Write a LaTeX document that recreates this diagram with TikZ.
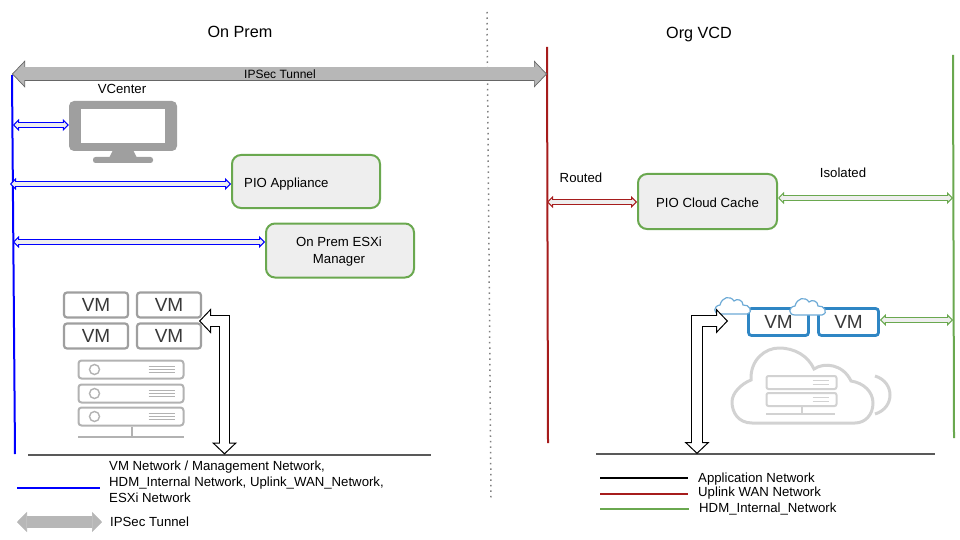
\documentclass[tikz,border=0pt]{standalone}
\usepackage{fontspec}
\setmainfont{Liberation Sans}
\usepackage{xcolor}
\usetikzlibrary{arrows.meta,positioning,calc}
\definecolor{boxgreen}{HTML}{6AA84F}
\definecolor{boxfill}{HTML}{EEEEEE}
\definecolor{vmblue}{HTML}{2F86C4}
\definecolor{lanred}{HTML}{A61C1C}
\definecolor{tunnelgray}{HTML}{B7B7B7}
\begin{document}
\begin{tikzpicture}[
    x=1pt, y=-1pt,
    every node/.style={font=\fontsize{13.2}{15}\selectfont, inner sep=0pt},
    label/.style={font=\fontsize{13.2}{16}\selectfont, align=left},
    title/.style={font=\fontsize{16.2}{19}\selectfont},
    appbox/.style={rectangle, draw=boxgreen, fill=boxfill, line width=2pt, rounded corners=9pt, minimum width=#1, align=center},
    vmgray/.style={rectangle, draw=gray!75, fill=white, line width=2.2pt, rounded corners=3pt, minimum width=64pt, minimum height=25pt, font=\fontsize{19}{21}\selectfont, text=black!78},
    vmcloud/.style={rectangle, draw=vmblue, fill=white, line width=2.8pt, rounded corners=3pt, minimum width=60pt, minimum height=27pt, font=\fontsize{19}{21}\selectfont, text=black!78},
    rack/.style={rectangle, draw=gray!60, fill=white, line width=2pt, rounded corners=3pt, minimum width=105pt, minimum height=18pt},
    cloudrack/.style={rectangle, draw=gray!35, fill=white, line width=2pt, rounded corners=2pt, minimum width=70pt, minimum height=13pt},
    openbase/.style n args={3}{postaction={draw=#1, line width=#2, -, shorten >=#3, shorten <=#3}},
    wire/.style={draw=#1, line width=1pt, double=boxfill, double distance=4.5pt,
        {Triangle[length=6pt, width=12pt, line width=1pt, fill=boxfill]}-{Triangle[length=6pt, width=12pt, line width=1pt, fill=boxfill]},
        openbase={boxfill}{4.5pt}{4.5pt}},
    uplink/.style={draw=black, line width=1pt, double=white, double distance=9.5pt, line join=miter,
        {Triangle[length=12pt, width=25pt, line width=1pt, fill=white]}-{Triangle[length=12pt, width=25pt, line width=1pt, fill=white]},
        openbase={white}{9.5pt}{10pt}},
    tunnel/.style={draw=gray!80!black, line width=0.7pt, double=tunnelgray, double distance=#1},
    net/.style={line width=2pt}
]
    \useasboundingbox (0,0) rectangle (960,540);

    % Titles and divider
    \node[title] (onprem) at (240,32) {On Prem};
    \node[title] (orgvcd) at (699,35) {Org VCD};
    \coordinate (divtop) at (487,12);
    \coordinate (divbot) at (491,498);
    \draw[gray, line width=1.5pt, dash pattern=on 1.5pt off 4pt] (divtop) -- (divbot);

    % Network lines
    \coordinate (bluetop) at (12,75);
    \coordinate (bluebot) at (15,454);
    \coordinate (redtop) at (547,47);
    \coordinate (redbot) at (548,443);
    \coordinate (greentop) at (953,55);
    \coordinate (greenbot) at (954,438);
    \draw[net, blue] (bluetop) -- (bluebot);
    \draw[net, lanred] (redtop) -- (redbot);
    \draw[net, boxgreen] (greentop) -- (greenbot);
    \coordinate (groundLa) at (28,455);
    \coordinate (groundLb) at (431,455);
    \coordinate (groundRa) at (596,454);
    \coordinate (groundRb) at (935,454);
    \draw[net, black!65] (groundLa) -- (groundLb);
    \draw[net, black!65] (groundRa) -- (groundRb);

    % IPSec tunnel
    \coordinate (tunnelL) at (12,74);
    \coordinate (tunnelR) at (547,74);
    \draw[tunnel=13pt, {Triangle[length=13pt, width=27pt, line width=0.7pt, fill=tunnelgray]}-{Triangle[length=13pt, width=27pt, line width=0.7pt, fill=tunnelgray]}, openbase={tunnelgray}{13pt}{11pt}] (tunnelL) -- (tunnelR);
    \node[font=\fontsize{12}{14}\selectfont] (tunneltext) at (280,74.5) {IPSec Tunnel};

    % VCenter monitor
    \node (vcenter) at (122,88.5) {VCenter};
    \node[rectangle, fill=gray!75, rounded corners=5pt, minimum width=108pt, minimum height=50pt] (monitor) at (123,126) {};
    \node[rectangle, fill=white, minimum width=84pt, minimum height=34pt] (screen) at (123,126) {};
    \fill[gray!75] (113,150) -- (133,150) -- (137,158) -- (109,158) -- cycle;
    \fill[gray!75, rounded corners=2.5pt] (93,157) rectangle (153,163);

    % Appliance boxes
    \node[appbox=148pt, minimum height=53pt] (appliance) at (306,181.5) {};
    \node[anchor=west] (appliancetext) at (244,184) {PIO Appliance};
    \node[appbox=148pt, minimum height=54pt] (esxi) at (340,250.5) {};
    \node[align=center, font=\fontsize{13.2}{17}\selectfont] (esxitext) at (339,252) {On Prem ESXi\\Manager};
    \node[appbox=139pt, minimum height=55pt] (cache) at (707.5,201.5) {};
    \node (cachetext) at (707.5,202.5) {PIO Cloud Cache};

    % Left side links
    \coordinate (busA) at (13,125);
    \coordinate (busB) at (10,184);
    \coordinate (busC) at (13,242);
    \draw[wire=blue] (busA) -- (monitor.west |- busA);
    \draw[wire=blue] (busB) -- (appliance.west |- busB);
    \draw[wire=blue] (busC) -- (esxi.west |- busC);

    % Gray VMs
    \foreach \name/\px/\py in {vmA/96/305, vmB/169/305, vmC/96/336, vmD/169/336} {
        \node[vmgray] (\name) at (\px,\py) {VM};
    }
    % Server stack
    \foreach \i/\py in {1/369.5, 2/393.5, 3/416.5} {
        \node[rack] (rack\i) at (131,\py) {};
        \draw[gray!60, line width=1.4pt] ($(rack\i.west)+(17,0)$) circle (5pt);
        \foreach \dy in {-3,0,3} {
            \draw[gray!60, line width=1pt] ($(rack\i.east)+(-36,\dy)$) -- ($(rack\i.east)+(-10,\dy)$);
        }
    }
    \coordinate (standL) at (78,437);
    \coordinate (standR) at (184,437);
    \draw[gray!60, line width=1.8pt] (rack3.south -| 132,0) -- (132,437);
    \draw[gray!60, line width=1.8pt] (standL) -- (standR);

    % Uplink to application network, left
    \coordinate (vmport) at (199,321);
    \coordinate (tapL) at (224.5,454.5);
    \draw[uplink] (vmport) -| (tapL);

    % Cloud VMs
    \draw[gray!35, line width=3pt] (752,423) .. controls (738,423) and (732,412) .. (732,402)
        .. controls (732,393) and (741,384) .. (751,380)
        .. controls (750,360) and (765,348) .. (779,348)
        .. controls (795,348) and (808,356) .. (814,369)
        .. controls (824,362) and (843,364) .. (851,381)
        .. controls (864,383) and (873,392) .. (873,403)
        .. controls (873,415) and (865,423) .. (855,423) -- cycle;
    \draw[gray!35, line width=3pt] (875,376) .. controls (895,382) and (895,408) .. (875,414);
    \foreach \i/\py in {1/382.5, 2/399.5} {
        \node[cloudrack] (crack\i) at (801.5,\py) {};
        \foreach \dy in {-2,2} {
            \draw[gray!35, line width=1pt] ($(crack\i.east)+(-25,\dy)$) -- ($(crack\i.east)+(-9,\dy)$);
        }
    }
    \coordinate (cstandL) at (766,414);
    \coordinate (cstandR) at (835,414);
    \draw[gray!35, line width=1.5pt] (802,406) -- (802,414);
    \draw[gray!35, line width=1.5pt] (cstandL) -- (cstandR);

    \node[vmcloud] (vmE) at (778.5,322) {VM};
    \node[vmcloud] (vmF) at (848.5,322) {VM};
    \foreach \cx/\cy in {733/307, 808/308} {
        \draw[vmblue!70, fill=white, line width=1.2pt] (\cx-13,\cy+7) .. controls (\cx-20,\cy+7) and (\cx-20,\cy-1) .. (\cx-13,\cy-2)
            .. controls (\cx-11,\cy-10) and (\cx-3,\cy-12) .. (\cx+1,\cy-6)
            .. controls (\cx+4,\cy-9) and (\cx+10,\cy-7) .. (\cx+10,\cy-2)
            .. controls (\cx+16,\cy-3) and (\cx+21,\cy+5) .. (\cx+14,\cy+7) -- cycle;
    }

    % Uplink to application network, right
    \coordinate (cloudport) at (728,321);
    \coordinate (tapR) at (697,454);
    \draw[uplink] (cloudport) -| (tapR);

    % Right side links
    \node (routed) at (581,177.5) {Routed};
    \node (isolated) at (843,172.5) {Isolated};
    \coordinate (redport) at (547,202);
    \coordinate (greenport) at (953,198);
    \coordinate (greenvm) at (953,320);
    \draw[wire=lanred] (redport) -- (cache.west |- redport);
    \draw[wire=boxgreen] (cache.east |- greenport) -- (greenport);
    \draw[wire=boxgreen] (vmF.east |- greenvm) -- (greenvm);

    % Legend left
    \node[label, anchor=north west] (legendnet) at (109,461) {VM Network / Management Network,\\HDM\_Internal Network, Uplink\_WAN\_Network,\\ESXi Network};
    \coordinate (legblueA) at (17,488);
    \coordinate (legblueB) at (100,488);
    \draw[net, blue] (legblueA) -- (legblueB);
    \coordinate (legtunA) at (17,522);
    \coordinate (legtunB) at (102,522);
    \draw[tunnel=10pt, draw=tunnelgray, {Triangle[length=10pt, width=20pt, line width=0.7pt, fill=tunnelgray]}-{Triangle[length=10pt, width=20pt, line width=0.7pt, fill=tunnelgray]}] (legtunA) -- (legtunB);
    \node[anchor=west] (legtuntext) at (110,522) {IPSec Tunnel};

    % Legend right
    \foreach \name/\col/\ya/\xb/\xt/\yt/\txt in {lapp/black/478/688/698/479/Application Network, lwan/lanred/494/688/698/493/Uplink WAN Network, lhdm/boxgreen/509/689/699/509/HDM\_Internal\_Network} {
        \coordinate (\name a) at (600,\ya);
        \coordinate (\name b) at (\xb,\ya);
        \draw[net, \col] (\name a) -- (\name b);
        \node[anchor=west] (\name text) at (\xt,\yt) {\txt};
    }
\end{tikzpicture}
\end{document}
